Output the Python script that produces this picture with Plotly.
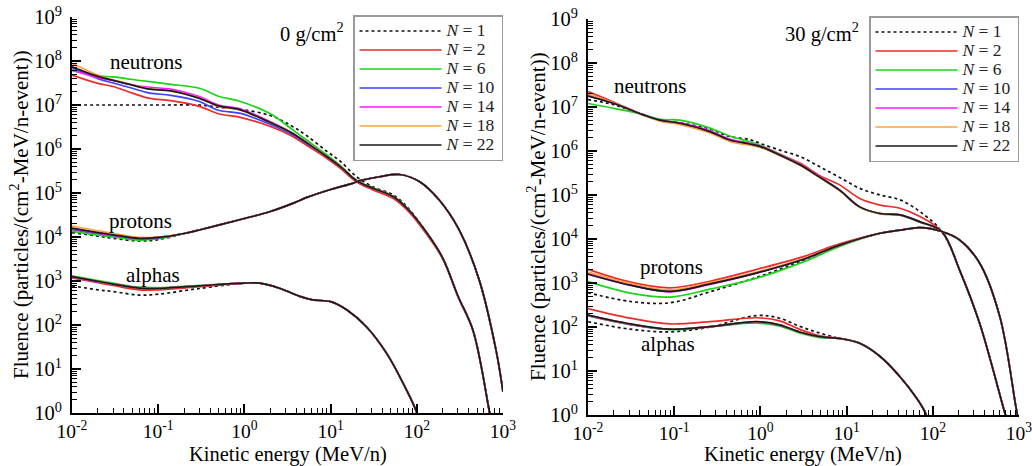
import plotly.graph_objects as go

W, H = 1032, 466
FONT = "Liberation Serif"

N_LABELS = ["1", "2", "6", "10", "14", "18", "22"]
COLORS = ["#111111", "#ee2a2a", "#19d419", "#3f3fff", "#ff1aff", "#ffa040", "#1a1a1a"]
DASHES = ["dot", "solid", "solid", "solid", "solid", "solid", "solid"]

# ---------------- 0 g/cm2 (values are log10 of fluence) ----------------
E_n0 = [0.01, 0.02, 0.03, 0.05, 0.08, 0.14, 0.3, 0.5, 0.9, 2, 3.5, 5.3,
        9, 13, 20, 31, 53, 80, 130, 200, 300, 450, 700, 800]
tail_n0 = [5.83, 5.60, 5.28, 5.11, 4.92, 4.62, 4.10, 3.52, 2.66, 1.87, 0.00, -0.60]
n0 = {
    "1":  [7.00, 7.00, 7.00, 7.00, 7.00, 7.00, 7.00, 6.95, 6.90, 6.76, 6.53, 6.30,
           5.95, 5.72, 5.37, 5.14, 4.96, 4.65, 4.10, 3.52, 2.66, 1.87, 0.00, -0.60],
    "2":  [7.68, 7.49, 7.42, 7.27, 7.15, 7.10, 6.97, 6.80, 6.72, 6.51, 6.30, 6.08,
           5.79, 5.56, 5.25, 5.07, 4.88, 4.58, 4.06, 3.50, 2.64, 1.86, 0.00, -0.60],
    "6":  [7.78, 7.66, 7.64, 7.58, 7.53, 7.47, 7.38, 7.20, 7.08, 6.80, 6.46, 6.20,
           5.87, 5.62, 5.29, 5.12, 4.93, 4.63, 4.10, 3.52, 2.66, 1.87, 0.00, -0.60],
    "10": [7.85, 7.60, 7.50, 7.38, 7.27, 7.22, 7.08, 6.88, 6.81, 6.56, 6.34, 6.12] + tail_n0,
    "14": [7.80, 7.62, 7.56, 7.46, 7.40, 7.36, 7.19, 7.00, 6.91, 6.62, 6.38, 6.15] + tail_n0,
    "18": [7.95, 7.68, 7.57, 7.46, 7.37, 7.32, 7.16, 6.97, 6.88, 6.60, 6.37, 6.14] + tail_n0,
    "22": [7.87, 7.65, 7.56, 7.45, 7.36, 7.32, 7.15, 6.98, 6.89, 6.60, 6.37, 6.14] + tail_n0,
}

E_p0 = [0.01, 0.02, 0.03, 0.06, 0.1, 0.2, 0.3, 0.5, 1, 2, 3.7, 5.3, 10, 18, 22,
        37, 63, 107, 182, 310, 530, 830, 1000]
tail_p0 = [4.08, 4.16, 4.27, 4.42, 4.58, 4.77, 4.90, 5.08, 5.22, 5.28, 5.37, 5.42,
           5.26, 4.84, 4.16, 3.02, 1.43, 0.48]
p0 = {
    "1":  [4.10, 4.02, 3.97, 3.91, 3.94] + tail_p0,
    "2":  [4.17, 4.08, 4.04, 3.97, 3.99] + tail_p0,
    "6":  [4.13, 4.04, 4.00, 3.93, 3.96] + tail_p0,
    "10": [4.18, 4.08, 4.03, 3.96, 3.98] + tail_p0,
    "14": [4.19, 4.09, 4.04, 3.97, 3.99] + tail_p0,
    "18": [4.25, 4.14, 4.08, 3.99, 4.00] + tail_p0,
    "22": [4.20, 4.10, 4.05, 3.97, 3.99] + tail_p0,
}

E_a0 = [0.01, 0.02, 0.03, 0.06, 0.1, 0.3, 1, 1.5, 2.6, 4.4, 6.2, 10, 15.5, 26,
        44.5, 76, 99, 110]
tail_a0 = [2.95, 2.95, 2.83, 2.65, 2.57, 2.53, 2.34, 1.96, 1.36, 0.52, 0.03, -0.30]
a0 = {
    "1":  [2.89, 2.80, 2.76, 2.68, 2.70, 2.83] + tail_a0,
    "2":  [3.07, 2.96, 2.90, 2.80, 2.80, 2.87] + tail_a0,
    "6":  [3.12, 3.01, 2.95, 2.86, 2.85, 2.90] + tail_a0,
    "10": [3.09, 2.98, 2.93, 2.84, 2.83, 2.89] + tail_a0,
    "14": [3.09, 2.98, 2.93, 2.84, 2.83, 2.89] + tail_a0,
    "18": [3.10, 2.99, 2.93, 2.84, 2.83, 2.89] + tail_a0,
    "22": [3.10, 2.99, 2.93, 2.84, 2.83, 2.89] + tail_a0,
}

# ---------------- 30 g/cm2 (values are log10 of fluence) ----------------
E_n30 = [0.01, 0.02, 0.044, 0.068, 0.117, 0.26, 0.44, 0.75, 1, 1.67, 2.9, 4.9,
         8.3, 14.2, 24.5, 41.6, 71, 127, 204, 350, 680, 800]
tail_n30 = [4.17, 3.30, 2.08, 0.07, -0.40]
n30 = {
    "1":  [7.17, 7.05, 6.82, 6.70, 6.64, 6.50, 6.33, 6.26, 6.17, 6.02, 5.87, 5.64,
           5.40, 5.15, 5.00, 4.89, 4.62] + tail_n30,
    "2":  [7.35, 7.11, 6.82, 6.70, 6.63, 6.45, 6.26, 6.17, 6.11, 5.93, 5.72, 5.44,
           5.23, 4.92, 4.77, 4.70, 4.51] + tail_n30,
    "6":  [7.08, 6.97, 6.83, 6.72, 6.70, 6.52, 6.34, 6.21, 6.13, 5.93, 5.69, 5.40,
           5.10, 4.72, 4.57, 4.54, 4.38] + tail_n30,
    "10": [7.26, 7.08, 6.82, 6.70, 6.63, 6.45, 6.26, 6.16, 6.10, 5.91, 5.68, 5.40,
           5.11, 4.73, 4.58, 4.55, 4.39] + tail_n30,
    "14": [7.27, 7.08, 6.82, 6.70, 6.64, 6.46, 6.27, 6.17, 6.11, 5.92, 5.69, 5.41,
           5.11, 4.73, 4.58, 4.55, 4.39] + tail_n30,
    "18": [7.30, 7.09, 6.81, 6.68, 6.60, 6.41, 6.22, 6.13, 6.08, 5.90, 5.67, 5.39,
           5.10, 4.73, 4.58, 4.55, 4.39] + tail_n30,
    "22": [7.25, 7.08, 6.82, 6.70, 6.63, 6.44, 6.25, 6.16, 6.10, 5.91, 5.68, 5.40,
           5.11, 4.73, 4.58, 4.55, 4.39] + tail_n30,
}

E_p30 = [0.01, 0.031, 0.089, 0.26, 0.91, 3.15, 8.3, 24.5, 41.6, 71, 127, 204,
         350, 600, 920, 1000]
tail_p30 = [4.13, 4.20, 4.26, 4.17, 3.98, 3.45, 2.23, 0.19, -0.20]
p30 = {
    "1":  [2.78, 2.58, 2.55, 2.80, 3.13, 3.52, 3.86] + tail_p30,
    "2":  [3.31, 3.02, 2.89, 3.04, 3.31, 3.60, 3.89] + tail_p30,
    "6":  [3.03, 2.77, 2.68, 2.86, 3.11, 3.48, 3.83] + tail_p30,
    "10": [3.22, 2.96, 2.81, 2.98, 3.23, 3.54, 3.86] + tail_p30,
    "14": [3.21, 2.95, 2.80, 2.97, 3.23, 3.54, 3.86] + tail_p30,
    "18": [3.25, 2.99, 2.84, 3.01, 3.25, 3.55, 3.86] + tail_p30,
    "22": [3.20, 2.95, 2.81, 2.98, 3.23, 3.54, 3.86] + tail_p30,
}

E_a30 = [0.01, 0.031, 0.089, 0.26, 0.91, 1.67, 2.9, 4.9, 8.3, 14.2, 24.5, 41.6,
         65, 81, 90]
tail_a30 = [1.74, 1.63, 1.33, 0.87, 0.38, 0.07, -0.20]
a30 = {
    "1":  [2.12, 1.95, 1.89, 2.00, 2.26, 2.20, 2.01, 1.86] + tail_a30,
    "2":  [2.42, 2.20, 2.07, 2.12, 2.21, 2.14, 1.94, 1.80] + tail_a30,
    "6":  [2.25, 2.05, 1.94, 2.00, 2.09, 2.02, 1.86, 1.76] + tail_a30,
    "10": [2.27, 2.06, 1.95, 2.01, 2.11, 2.04, 1.88, 1.78] + tail_a30,
    "14": [2.26, 2.06, 1.95, 2.01, 2.11, 2.04, 1.88, 1.78] + tail_a30,
    "18": [2.27, 2.07, 1.95, 2.01, 2.12, 2.05, 1.88, 1.78] + tail_a30,
    "22": [2.27, 2.07, 1.95, 2.01, 2.12, 2.05, 1.88, 1.78] + tail_a30,
}

X_TICKS = [-2, -1, 0, 1, 2, 3]
Y_TICKS = list(range(0, 10))

fig = go.Figure()

panels = [
    ("x", "y", "legend", [(E_n0, n0), (E_p0, p0), (E_a0, a0)]),
    ("x2", "y2", "legend2", [(E_n30, n30), (E_p30, p30), (E_a30, a30)]),
]

for xa, ya, leg, groups in panels:
    for gi, (E, curves) in enumerate(groups):
        for k, lab in enumerate(N_LABELS):
            fig.add_trace(go.Scatter(
                x=E, y=[10 ** v for v in curves[lab]],
                xaxis=xa, yaxis=ya, mode="lines",
                line=dict(color=COLORS[k], width=1.7, dash=DASHES[k],
                          shape="spline", smoothing=1.0),
                name='<span style="font-size:17.5px"><i>N</i> = %s</span>' % lab,
                legend=leg, showlegend=(gi == 0), hoverinfo="skip",
            ))


def px_x(p):
    return p / W


def px_y(p):
    return 1 - p / H


minor_x = [m * 10 ** e for e in range(-2, 3) for m in range(2, 10)]
minor_y = [m * 10 ** e for e in range(0, 9) for m in range(2, 10)]

XTICKFONT = dict(family=FONT, size=19.5, color="black")
YTICKFONT = dict(family=FONT, size=20.5, color="black")


def xaxis_cfg(x0, x1, anchor):
    return dict(
        type="log", range=[-2, 3], domain=[px_x(x0), px_x(x1)], anchor=anchor,
        showline=True, linecolor="black", linewidth=2, mirror=False,
        showgrid=False, zeroline=False, automargin=False,
        ticks="inside", ticklen=9, tickwidth=2, tickcolor="black",
        tickvals=[10 ** t for t in X_TICKS],
        ticktext=["10<sup>%s</sup>" % t for t in X_TICKS],
        tickfont=XTICKFONT, ticklabelstandoff=0, ticklabeloverflow="allow",
        minor=dict(ticks="inside", ticklen=5, tickwidth=1, tickcolor="black",
                   tickvals=minor_x, showgrid=False),
    )


def yaxis_cfg(y0, y1, anchor):
    return dict(
        type="log", range=[0, 9], domain=[px_y(y1), px_y(y0)], anchor=anchor,
        showline=True, linecolor="black", linewidth=2, mirror=False,
        showgrid=False, zeroline=False, automargin=False,
        ticks="inside", ticklen=9, tickwidth=2, tickcolor="black",
        tickvals=[10 ** t for t in Y_TICKS],
        ticktext=["10<sup>%s</sup>" % t for t in Y_TICKS],
        tickfont=YTICKFONT, ticklabelstandoff=4, ticklabeloverflow="allow",
        minor=dict(ticks="inside", ticklen=5, tickwidth=1, tickcolor="black",
                   tickvals=minor_y, showgrid=False),
    )


legend_common = dict(
    xanchor="left", yanchor="top", bgcolor="white",
    bordercolor="#9a9a9a", borderwidth=1.5,
    font=dict(family=FONT, size=12, color="#222222"),
    itemwidth=82, tracegroupgap=0,
)

ann = []
def text(s, x, y, size=21, angle=0):
    ann.append(dict(text=s, x=px_x(x), y=px_y(y), xref="paper", yref="paper",
                    showarrow=False, textangle=angle, xanchor="center", yanchor="middle",
                    font=dict(family=FONT, size=size, color="black")))

ytitle = "Fluence (particles/(cm<sup>2</sup>-MeV/n-event))"
text(ytitle, 19, 215, 21, -90)
text(ytitle, 536, 217, 21, -90)
text("Kinetic energy (MeV/n)", 288, 454, 20.5)
text("Kinetic energy (MeV/n)", 803, 454, 20.5)
text("0 g/cm<sup>2</sup>", 312, 32, 20.5)
text("30 g/cm<sup>2</sup>", 822, 32, 20.5)
text("neutrons", 146, 62)
text("protons", 140, 221)
text("alphas", 153, 275)
text("neutrons", 650, 86)
text("protons", 671, 267)
text("alphas", 668, 344)

fig.update_layout(
    width=W, height=H,
    margin=dict(l=0, r=0, t=0, b=0, pad=0, autoexpand=False),
    paper_bgcolor="white", plot_bgcolor="white",
    xaxis=xaxis_cfg(72, 503, "y"),
    yaxis=yaxis_cfg(17, 413, "x"),
    xaxis2=xaxis_cfg(588, 1019, "y2"),
    yaxis2=yaxis_cfg(19, 415, "x2"),
    legend=dict(x=px_x(353), y=px_y(15), **legend_common),
    legend2=dict(x=px_x(869), y=px_y(16), **legend_common),
    annotations=ann,
    font=dict(family=FONT, color="black"),
)

fig.write_html("out.html")
